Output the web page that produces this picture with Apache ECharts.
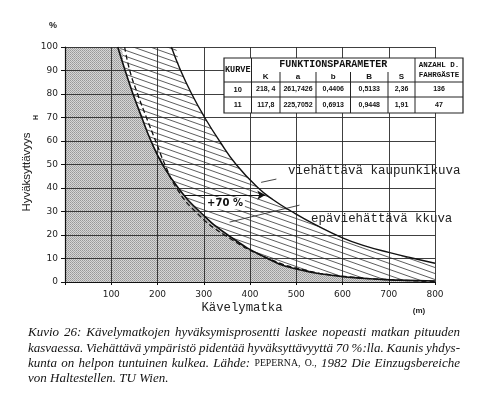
<!DOCTYPE html>
<html>
<head>
<meta charset="utf-8">
<script src="https://cdn.jsdelivr.net/npm/echarts@6/dist/echarts.min.js"></script>
<style>
  html, body { margin: 0; padding: 0; background: #fff; }
  #chart { width: 500px; height: 398px; }
</style>
</head>
<body>
<div id="chart"></div>
<script>
// walking distance (m) vs acceptance (%)
const upperX = [0, 230, 250, 274, 302, 334, 370, 418, 450, 490, 540, 600, 650, 700, 750, 800];
const upperY = [100, 100, 90, 80, 70, 60, 50, 40, 35, 30, 24.5, 18.8, 15.3, 12.6, 10.2, 8];
const lowerX = [0, 114, 130, 147, 166, 186, 211, 245, 291, 352, 438, 500, 580, 650, 720, 800];
const lowerY = [100, 100, 90, 80, 70, 60, 50, 40, 30, 20, 10, 5.5, 2.8, 1.5, 0.8, 0.4];
const dashX = [129, 140, 157, 176, 196, 216, 241, 282, 345, 440, 520, 600, 700, 800];
const dashY = [100, 90, 80, 70, 60, 50, 40, 30, 20, 10, 5, 2.5, 1, 0.3];

// +70 % arrow and leader lines (data coords)
const arrowLine = [[258, 37], [433, 37]];
const leaderTop = [[424, 42.4], [457, 43.8]];
const leaderBottom = [[356, 25.5], [507, 32.7]];

// table
const curveIds = ['10', '11'];
const paramNames = ['K', 'a', 'b', 'B', 'S'];
const paramRows = [
  ['218, 4', '261,7426', '0,4406', '0,5133', '2,36'],
  ['117,8', '225,7052', '0,6913', '0,9448', '1,91']
];
const passengers = ['136', '47'];

// caption, [text, smallcaps?] pieces per line
const captionLines = [
  [['Kuvio 26: Kävelymatkojen hyväksymisprosentti laskee nopeasti matkan pituuden', false]],
  [['kasvaessa. Viehättävä ympäristö pidentää hyväksyttävyyttä 70 %:lla. Kaunis yhdys-', false]],
  [['kunta on helpon tuntuinen kulkea. Lähde:', false], ['PEPERNA, O.,', true], ['1982 Die Einzugsbereiche', false]],
  [['von Haltestellen. TU Wien.', false]]
];

function zip(xs, ys) { return xs.map((x, i) => [x, ys[i]]); }

function hatchCanvas() {
  const c = document.createElement('canvas');
  c.width = 17; c.height = 6;
  const ctx = c.getContext('2d');
  ctx.fillStyle = '#fff';
  ctx.fillRect(0, 0, 17, 6);
  ctx.strokeStyle = '#333';
  ctx.lineWidth = 0.8;
  [-6, 0, 6].forEach(o => {
    ctx.beginPath();
    ctx.moveTo(0, o);
    ctx.lineTo(17, o + 6);
    ctx.stroke();
  });
  return c;
}

function stippleCanvas() {
  const c = document.createElement('canvas');
  c.width = 2; c.height = 2;
  const ctx = c.getContext('2d');
  ctx.fillStyle = '#d6d6d6';
  ctx.fillRect(0, 0, 2, 2);
  ctx.fillStyle = '#989898';
  ctx.fillRect(0, 0, 1, 1);
  ctx.fillStyle = '#a8a8a8';
  ctx.fillRect(1, 1, 1, 1);
  return c;
}

const mono = '"Liberation Mono", "DejaVu Sans Mono", monospace';
const sans = '"Liberation Sans", Arial, sans-serif';

// table graphics
const tx = [224, 251.5, 280, 316, 350.5, 388, 415, 463];
const ty = [58, 82, 97, 113];
const table = [];
table.push({ type: 'rect', shape: { x: tx[0], y: ty[0], width: tx[7] - tx[0], height: ty[3] - ty[0] },
  style: { fill: '#fff', stroke: '#222', lineWidth: 1.2 }, z: 100 });
[ty[1], ty[2]].forEach(y => table.push({ type: 'line', shape: { x1: tx[0], y1: y, x2: tx[7], y2: y },
  style: { stroke: '#222', lineWidth: 1 }, z: 101 }));
[tx[1], tx[6]].forEach(x => table.push({ type: 'line', shape: { x1: x, y1: ty[0], x2: x, y2: ty[3] },
  style: { stroke: '#222', lineWidth: 1 }, z: 101 }));
[tx[2], tx[3], tx[4], tx[5]].forEach(x => table.push({ type: 'line', shape: { x1: x, y1: 72, x2: x, y2: ty[3] },
  style: { stroke: '#222', lineWidth: 1 }, z: 101 }));
function cell(text, x, y, font) {
  return { type: 'text', x: x, y: y, z: 102,
    style: { text: text, font: font, fill: '#111', align: 'center', verticalAlign: 'middle' } };
}
table.push(cell('KURVE', (tx[0] + tx[1]) / 2, 70, 'bold 8.5px ' + mono));
table.push(cell('FUNKTIONSPARAMETER', (tx[1] + tx[6]) / 2, 64.5, 'bold 10px ' + mono));
table.push(cell('ANZAHL D.', (tx[6] + tx[7]) / 2, 65.5, 'bold 7.5px ' + mono));
table.push(cell('FAHRGÄSTE', (tx[6] + tx[7]) / 2, 75, 'bold 7.5px ' + mono));
paramNames.forEach((p, i) => table.push(cell(p, (tx[i + 1] + tx[i + 2]) / 2, 76.5, 'bold 8px ' + sans)));
curveIds.forEach((id, r) => {
  const y = (ty[r + 1] + ty[r + 2]) / 2;
  table.push(cell(id, (tx[0] + tx[1]) / 2, y, 'bold 7.5px ' + sans));
  paramRows[r].forEach((v, i) => table.push(cell(v, (tx[i + 1] + tx[i + 2]) / 2, y, 'bold 7px ' + sans)));
  table.push(cell(passengers[r], (tx[6] + tx[7]) / 2, y, 'bold 7px ' + sans));
});

const texts = [
  { type: 'text', x: 27, y: 172, rotation: Math.PI / 2, z: 50,
    style: { text: 'Hyväksyttävyys', font: '11.5px ' + sans, fill: '#222', align: 'center', verticalAlign: 'middle' } },
  { type: 'text', x: 36.5, y: 117.5, rotation: Math.PI / 2, z: 50,
    style: { text: 'H', font: 'bold 7px ' + sans, fill: '#222', align: 'center', verticalAlign: 'middle' } },
  { type: 'text', x: 53, y: 26, z: 50,
    style: { text: '%', font: 'bold 9px ' + sans, fill: '#222', align: 'center', verticalAlign: 'middle' } },
  { type: 'text', x: 242, y: 308, z: 50,
    style: { text: 'Kävelymatka', font: '12.3px ' + mono, fill: '#222', align: 'center', verticalAlign: 'middle' } },
  { type: 'text', x: 419, y: 311, z: 50,
    style: { text: '(m)', font: 'bold 8px ' + sans, fill: '#222', align: 'center', verticalAlign: 'middle' } },
  { type: 'text', x: 288, y: 171, z: 50,
    style: { text: 'viehättävä kaupunkikuva', font: '12.5px ' + mono, fill: '#222', align: 'left', verticalAlign: 'middle' } },
  { type: 'text', x: 311, y: 219, z: 50,
    style: { text: 'epäviehättävä kkuva', font: '12.4px ' + mono, fill: '#222', align: 'left', verticalAlign: 'middle' } },
  { type: 'text', x: 225, y: 203.5, z: 50,
    style: { text: '+70 %', font: 'bold 10px "DejaVu Sans", sans-serif', fill: '#111', align: 'center', verticalAlign: 'middle',
      backgroundColor: '#fff', padding: [1, 2] } }
];

// justified caption, word by word
const italicFont = 'italic 13px "Liberation Serif", "Times New Roman", serif';
const scFont = '9.8px "Liberation Serif", "Times New Roman", serif';
const measure = document.createElement('canvas').getContext('2d');
captionLines.forEach((pieces, li) => {
  const words = [];
  pieces.forEach(([t, sc]) => t.split(' ').forEach(w => words.push({ w: w, font: sc ? scFont : italicFont })));
  words.forEach(o => { measure.font = o.font; o.width = measure.measureText(o.w).width; });
  const total = words.reduce((s, o) => s + o.width, 0);
  measure.font = italicFont;
  const justify = li < captionLines.length - 1;
  const gap = justify ? (460 - 28 - total) / (words.length - 1) : measure.measureText(' ').width;
  let x = 28;
  const y = 333 + li * 15.2;
  words.forEach(o => {
    texts.push({ type: 'text', x: x, y: y, z: 50,
      style: { text: o.w, font: o.font, fill: '#111', align: 'left', verticalAlign: 'middle' } });
    x += o.width + gap;
  });
});

const chart = echarts.init(document.getElementById('chart'));
const gridColor = '#2a2a2a';
const smooth = 0.5;
chart.setOption({
  animation: false,
  backgroundColor: '#fff',
  grid: { left: 65, right: 65, top: 47, bottom: 116 },
  xAxis: {
    type: 'value', min: 0, max: 800, interval: 100, z: 5,
    axisLine: { show: true, lineStyle: { color: '#111', width: 1.2 } },
    axisTick: { show: true, length: 3, lineStyle: { color: '#111' } },
    axisLabel: { margin: 8, color: '#222', fontSize: 9, fontFamily: '"DejaVu Sans", sans-serif',
      formatter: v => v === 0 ? '' : String(v) },
    splitLine: { show: true, lineStyle: { color: gridColor, width: 0.9 } }
  },
  yAxis: {
    type: 'value', min: 0, max: 100, interval: 10, z: 5,
    axisLine: { show: true, lineStyle: { color: '#111', width: 1.2 } },
    axisTick: { show: true, length: 4, lineStyle: { color: '#111' } },
    axisLabel: { margin: 7, color: '#222', fontSize: 9, fontFamily: '"DejaVu Sans", sans-serif' },
    splitLine: { show: true, lineStyle: { color: gridColor, width: 0.9 } }
  },
  series: [
    {
      type: 'line', data: zip(upperX, upperY), smooth: smooth, symbol: 'none', z: 1,
      lineStyle: { width: 0 },
      areaStyle: { color: { image: hatchCanvas(), repeat: 'repeat' }, opacity: 1 }
    },
    {
      type: 'line', data: zip(lowerX, lowerY), smooth: smooth, symbol: 'none', z: 2,
      lineStyle: { width: 0 },
      areaStyle: { color: { image: stippleCanvas(), repeat: 'repeat' }, opacity: 1 }
    },
    {
      type: 'line', data: zip(upperX, upperY).slice(1), smooth: smooth, symbol: 'none', z: 10,
      lineStyle: { color: '#111', width: 1.4 },
      markLine: {
        silent: true, symbol: ['none', 'arrow'], symbolSize: [7, 8],
        label: { show: false },
        lineStyle: { color: '#111', width: 1.2, type: 'solid' },
        data: [[{ coord: arrowLine[0] }, { coord: arrowLine[1] }]]
      }
    },
    {
      type: 'line', data: zip(lowerX, lowerY).slice(1), smooth: smooth, symbol: 'none', z: 10,
      lineStyle: { color: '#111', width: 1.6 },
      markLine: {
        silent: true, symbol: ['none', 'none'],
        label: { show: false },
        lineStyle: { color: '#333', width: 0.9, type: 'solid' },
        data: [
          [{ coord: leaderTop[0] }, { coord: leaderTop[1] }],
          [{ coord: leaderBottom[0] }, { coord: leaderBottom[1] }]
        ]
      }
    },
    {
      type: 'line', data: zip(dashX, dashY), smooth: smooth, symbol: 'none', z: 10,
      lineStyle: { color: '#111', width: 1.3, type: [5, 3] }
    }
  ],
  graphic: table.concat(texts)
});
</script>
</body>
</html>
